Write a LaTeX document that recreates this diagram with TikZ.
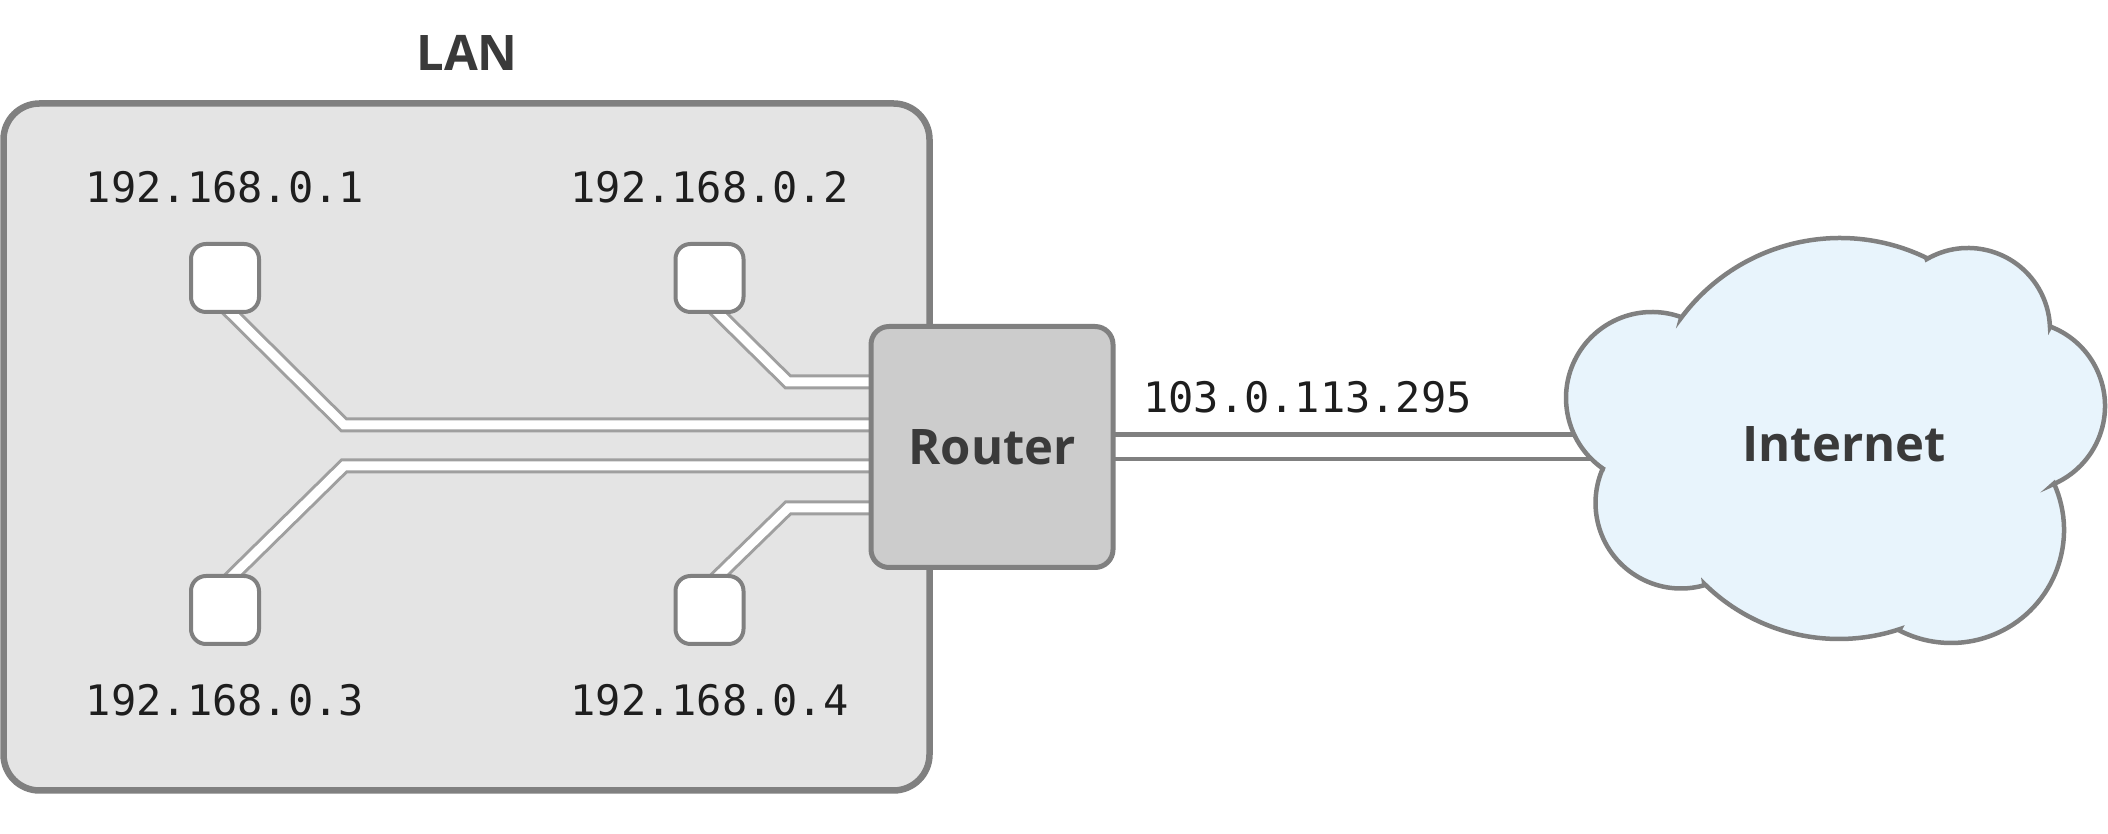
\documentclass[tikz,border=0pt]{standalone}
\usepackage{fontspec}
\setsansfont{Open Sans}
\setmonofont{DejaVu Sans Mono}
\usetikzlibrary{calc}
\definecolor{edge}{HTML}{808080}
\definecolor{wire}{HTML}{9F9F9F}
\definecolor{lanfill}{HTML}{E4E4E4}
\definecolor{routerfill}{HTML}{CCCCCC}
\definecolor{skyfill}{HTML}{E8F4FC}
\definecolor{heading}{HTML}{3A3A3A}
\definecolor{iptext}{HTML}{1E1E1E}
\pgfdeclarelayer{lanback}
\pgfdeclarelayer{wires}
\pgfsetlayers{lanback,wires,main}
\tikzset{
  lanbox/.style={draw=edge, fill=lanfill, line width=6.5, rounded corners=36},
  hostbox/.style={draw=edge, fill=white, line width=4, rounded corners=15,
    minimum width=68, minimum height=68, inner sep=0},
  routerbox/.style={draw=edge, fill=routerfill, line width=5, rounded corners=18,
    minimum width=242, minimum height=241, inner sep=0, text=heading,
    font=\sffamily\bfseries\fontsize{49}{58}\selectfont},
  iplabel/.style={text=iptext, inner sep=0, font=\ttfamily\fontsize{42}{50}\selectfont},
  titlelabel/.style={text=heading, inner sep=0, font=\sffamily\bfseries\fontsize{49}{58}\selectfont},
  lancable/.style={draw=wire, line width=3, double=white, double distance=9, line join=miter},
  wancable/.style={draw=edge, line width=4.5, double=white, double distance=20},
  cloudshape/.style={draw=edge, fill=skyfill, line width=4.5, line join=miter},
}
\begin{document}
\begin{tikzpicture}[x=1pt, y=1pt]
\useasboundingbox (0,0) rectangle (2108,834);

% page background and LAN enclosure
\begin{pgfonlayer}{lanback}
  \fill[white] (0,0) rectangle (2108,834);
  \draw[lanbox] (3.5,43.5) rectangle (929.5,730.5);
\end{pgfonlayer}
\node[titlelabel] (lantitle) at (467,781.5) {LAN};

% hosts
\node[hostbox] (dev1) at (225,556) {};
\node[hostbox] (dev2) at (709.5,556) {};
\node[hostbox] (dev3) at (225,224) {};
\node[hostbox] (dev4) at (709.5,224) {};

\node[iplabel] (ip1) at (225,647) {192.168.0.1};
\node[iplabel] (ip2) at (709.5,647) {192.168.0.2};
\node[iplabel] (ip3) at (225,134) {192.168.0.3};
\node[iplabel] (ip4) at (709.5,134) {192.168.0.4};

% router
\node[routerbox] (router) at (992,387) {Router};

% internet cloud
\draw[cloudshape]
  ([shift={(235.2:86)}]1652,436) arc[start angle=235.2, end angle=70.1, radius=86]
  -- ([shift={(143.4:198)}]1840,398) arc[start angle=143.4, end angle=64.2, radius=198]
  -- ([shift={(120.3:82)}]1968,504) arc[start angle=120.3, end angle=2.1, radius=82]
  -- ([shift={(69.2:85)}]2020,428) arc[start angle=69.2, end angle=-67.1, radius=85]
  -- ([shift={(24.3:113)}]1951,304) arc[start angle=24.3, end angle=-117.3, radius=113]
  -- ([shift={(-71.5:192)}]1839,387) arc[start angle=-71.5, end angle=-134.6, radius=192]
  -- ([shift={(-74.1:85.5)}]1681,331) arc[start angle=-74.1, end angle=-205.1, radius=85.5]
  -- cycle;
\node[titlelabel] (internet) at (1844,389.5) {Internet};

\node[iplabel] (wanip) at (1307.5,436.5) {103.0.113.295};

% cable bends
\coordinate (k1) at (344,409);
\coordinate (k2) at (788,452);
\coordinate (k3) at (344,368);
\coordinate (k4) at (788,326);

\begin{pgfonlayer}{wires}
  \draw[lancable] ($(dev1.south)+(-5,12)$) -- (k1) -- (k1 -| router.center);
  \draw[lancable] ($(dev2.south)+(-2.5,12)$) -- (k2) -- (k2 -| router.center);
  \draw[lancable] ($(dev3.north)+(-3,-12)$) -- (k3) -- (k3 -| router.center);
  \draw[lancable] ($(dev4.north)+(-1.5,-12)$) -- (k4) -- (k4 -| router.center);
  \draw[wancable] (router.center) -- (router.center -| internet.center);
\end{pgfonlayer}
\end{tikzpicture}
\end{document}
